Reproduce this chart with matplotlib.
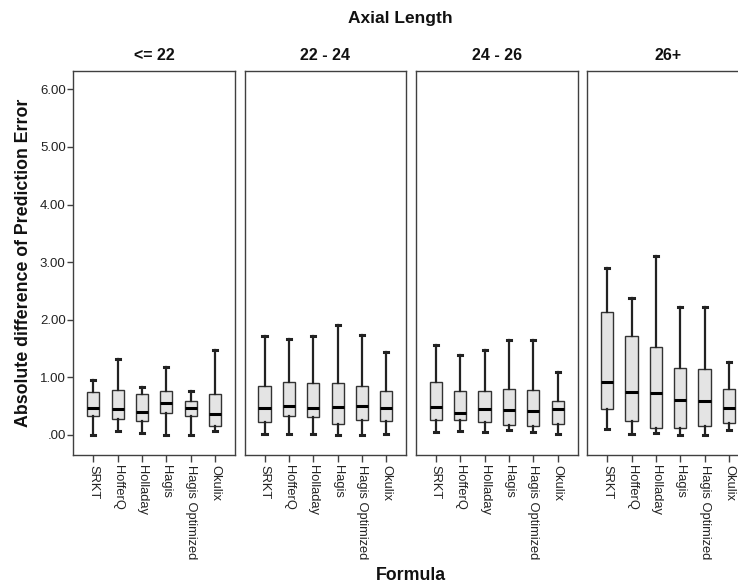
import matplotlib
matplotlib.use("Agg")
import matplotlib.pyplot as plt

plt.rcParams['font.family'] = ['Liberation Sans', 'DejaVu Sans']

formulas = ['SRKT', 'HofferQ', 'Holladay', 'Hagis', 'Hagis Optimized', 'Okulix']
groups = ['<= 22', '22 - 24', '24 - 26', '26+']

# per group, per formula: (whisker low, Q1, median, Q3, whisker high)
lo = [
    [0.00, 0.07, 0.04, 0.00, 0.00, 0.075],
    [0.02, 0.02, 0.02, 0.00, 0.00, 0.02],
    [0.058, 0.075, 0.058, 0.08, 0.052, 0.017],
    [0.093, 0.023, 0.035, 0.00, 0.00, 0.087],
]
q1 = [
    [0.33, 0.278, 0.243, 0.388, 0.33, 0.156],
    [0.231, 0.324, 0.307, 0.19, 0.26, 0.243],
    [0.255, 0.26, 0.22, 0.174, 0.162, 0.18],
    [0.45, 0.249, 0.116, 0.12, 0.15, 0.20],
]
med = [
    [0.475, 0.457, 0.393, 0.556, 0.475, 0.365],
    [0.469, 0.498, 0.475, 0.492, 0.498, 0.463],
    [0.486, 0.388, 0.45, 0.428, 0.417, 0.457],
    [0.926, 0.74, 0.723, 0.60, 0.59, 0.475],
]
q3 = [
    [0.74, 0.78, 0.717, 0.764, 0.59, 0.706],
    [0.85, 0.92, 0.90, 0.90, 0.857, 0.764],
    [0.914, 0.758, 0.758, 0.793, 0.775, 0.596],
    [2.135, 1.72, 1.52, 1.163, 1.15, 0.793],
]
hi = [
    [0.955, 1.32, 0.833, 1.17, 0.764, 1.47],
    [1.71, 1.67, 1.71, 1.90, 1.74, 1.44],
    [1.56, 1.39, 1.48, 1.65, 1.64, 1.09],
    [2.89, 2.37, 3.10, 2.22, 2.22, 1.26],
]

yticks = [0, 1, 2, 3, 4, 5, 6]
ytick_labels = ['.00', '1.00', '2.00', '3.00', '4.00', '5.00', '6.00']

frame_col = '#404040'
text_col = '#222222'

fig = plt.figure(figsize=(7.38, 5.86), dpi=100)

left0 = 73.3 / 738
step = 171.3 / 738
width = 161.7 / 738
bottom = (586 - 455) / 586
height = (455 - 71) / 586

for g in range(len(groups)):
    ax = fig.add_axes([left0 + g * step, bottom, width, height])
    stats = []
    for i in range(len(formulas)):
        stats.append({'whislo': lo[g][i], 'q1': q1[g][i], 'med': med[g][i],
                      'q3': q3[g][i], 'whishi': hi[g][i], 'fliers': []})
    ax.bxp(stats, positions=range(len(formulas)), widths=0.5, capwidths=0.17,
           showfliers=False, patch_artist=True,
           boxprops=dict(facecolor='#e4e4e4', edgecolor='#333333', linewidth=1.0),
           medianprops=dict(color='black', linewidth=2.2),
           whiskerprops=dict(color='#222222', linewidth=1.6),
           capprops=dict(color='#222222', linewidth=2.2))
    ax.set_xlim(-0.82, 5.82)
    ax.set_ylim(-0.35, 6.32)
    ax.set_xticks(range(len(formulas)))
    ax.set_xticklabels(formulas, rotation=270, fontsize=9.3, ha='center', va='top',
                       color=text_col)
    ax.tick_params(axis='x', direction='out', length=5, width=1, color=frame_col, pad=2)
    if g == 0:
        ax.set_yticks(yticks)
        ax.set_yticklabels(ytick_labels, fontsize=9.5, color=text_col)
        ax.tick_params(axis='y', direction='out', length=4, width=1, color=frame_col, pad=1.5)
    else:
        ax.set_yticks([])
    for s in ax.spines.values():
        s.set_color(frame_col)
        s.set_linewidth(1.0)
    ax.set_title(groups[g], fontsize=11.5, fontweight='bold', pad=8, color='#111111')

fig.text(400 / 738, 1 - 19 / 586, 'Axial Length', ha='center', va='center',
         fontsize=12.5, fontweight='bold', color='#111111')
fig.text(411 / 738, 1 - 576 / 586, 'Formula', ha='center', va='center',
         fontsize=12.8, fontweight='bold', color='#111111')
fig.text(24 / 738, 1 - 263 / 586, 'Absolute difference of Prediction Error', ha='center',
         va='center', rotation=90, fontsize=12.8, fontweight='bold', color='#111111')

fig.savefig('out.png', dpi=100)
